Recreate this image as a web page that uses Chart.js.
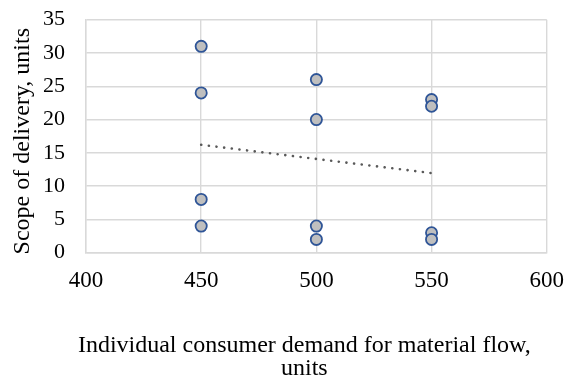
<!DOCTYPE html>
<html>
<head>
<meta charset="utf-8">
<script src="https://cdn.jsdelivr.net/npm/chart.js@4/dist/chart.umd.min.js"></script>
<style>
  html, body { margin: 0; padding: 0; background: #fff; }
  #wrap { width: 567px; height: 385px; }
</style>
</head>
<body>
<div id="wrap"><canvas id="c" width="567" height="385"></canvas></div>
<script>
// Observed demand (x) and delivery volume (y)
const demandX = [450, 450, 450, 450, 500, 500, 500, 500, 550, 550, 550, 550];
const deliveryY = [31, 24, 8, 4, 26, 20, 4, 2, 23, 22, 3, 2];
const xTicks = [400, 450, 500, 550, 600];
const yTicks = [0, 5, 10, 15, 20, 25, 30, 35];
const xTitleLines = ['Individual consumer demand for material flow,', 'units'];
const yTitle = 'Scope of delivery, units';

// Least-squares linear trend over the observed points
function linearTrend(xs, ys) {
  const n = xs.length;
  const mx = xs.reduce((a, b) => a + b, 0) / n;
  const my = ys.reduce((a, b) => a + b, 0) / n;
  let sxy = 0, sxx = 0;
  for (let i = 0; i < n; i++) {
    sxy += (xs[i] - mx) * (ys[i] - my);
    sxx += (xs[i] - mx) * (xs[i] - mx);
  }
  const slope = sxy / sxx;
  const x0 = Math.min(...xs), x1 = Math.max(...xs);
  return [
    { x: x0, y: my + slope * (x0 - mx) },
    { x: x1, y: my + slope * (x1 - mx) }
  ];
}

const points = demandX.map((x, i) => ({ x, y: deliveryY[i] }));
const trend = linearTrend(demandX, deliveryY);

const serif = '"Liberation Serif", "Times New Roman", serif';

// Axis titles, drawn after the chart so they can sit where the layout wants them
const axisTitles = {
  id: 'axisTitles',
  afterDraw(chart) {
    const { ctx, chartArea } = chart;
    ctx.save();
    ctx.fillStyle = '#000';
    ctx.font = '24px ' + serif;
    ctx.textAlign = 'center';
    ctx.textBaseline = 'alphabetic';
    const cx = (chartArea.left + chartArea.right) / 2 - 12;
    xTitleLines.forEach((line, i) => ctx.fillText(line, cx, chartArea.bottom + 99 + i * 23));
    const cy = (chartArea.top + chartArea.bottom) / 2 + 5;
    ctx.translate(28.5, cy);
    ctx.rotate(-Math.PI / 2);
    ctx.fillText(yTitle, 0, 0);
    ctx.restore();
  }
};

new Chart(document.getElementById('c'), {
  type: 'scatter',
  data: {
    datasets: [
      {
        label: 'Trend',
        type: 'line',
        data: trend,
        borderColor: '#595959',
        borderWidth: 2.6,
        borderDash: [0.1, 7.6],
        borderCapStyle: 'round',
        pointRadius: 0,
        fill: false,
        order: 2
      },
      {
        label: 'Delivery',
        data: points,
        backgroundColor: '#bfbfbf',
        borderColor: '#2f5597',
        borderWidth: 1.8,
        pointRadius: 5.6,
        order: 1
      }
    ]
  },
  plugins: [axisTitles],
  options: {
    responsive: false,
    animation: false,
    layout: { padding: { left: 40, right: 0, top: 19.7, bottom: 87.7 } },
    plugins: { legend: { display: false }, tooltip: { enabled: false } },
    scales: {
      x: {
        type: 'linear',
        min: 400,
        max: 600,
        afterBuildTicks: (axis) => { axis.ticks = xTicks.map(v => ({ value: v })); },
        grid: { color: '#d9d9d9', lineWidth: 1.4, drawTicks: true, tickLength: 11, tickColor: 'rgba(0,0,0,0)' },
        border: { color: '#d9d9d9', width: 1.4 },
        ticks: { color: '#000', font: { family: serif, size: 23 }, padding: 3, maxRotation: 0 }
      },
      y: {
        min: 0,
        max: 35,
        afterBuildTicks: (axis) => { axis.ticks = yTicks.map(v => ({ value: v })); },
        grid: { color: '#d9d9d9', lineWidth: 1.4, drawTicks: true, tickLength: 18, tickColor: 'rgba(0,0,0,0)' },
        border: { color: '#d9d9d9', width: 1.4 },
        ticks: { color: '#000', font: { family: serif, size: 22 }, padding: 3 }
      }
    }
  }
});
</script>
</body>
</html>
